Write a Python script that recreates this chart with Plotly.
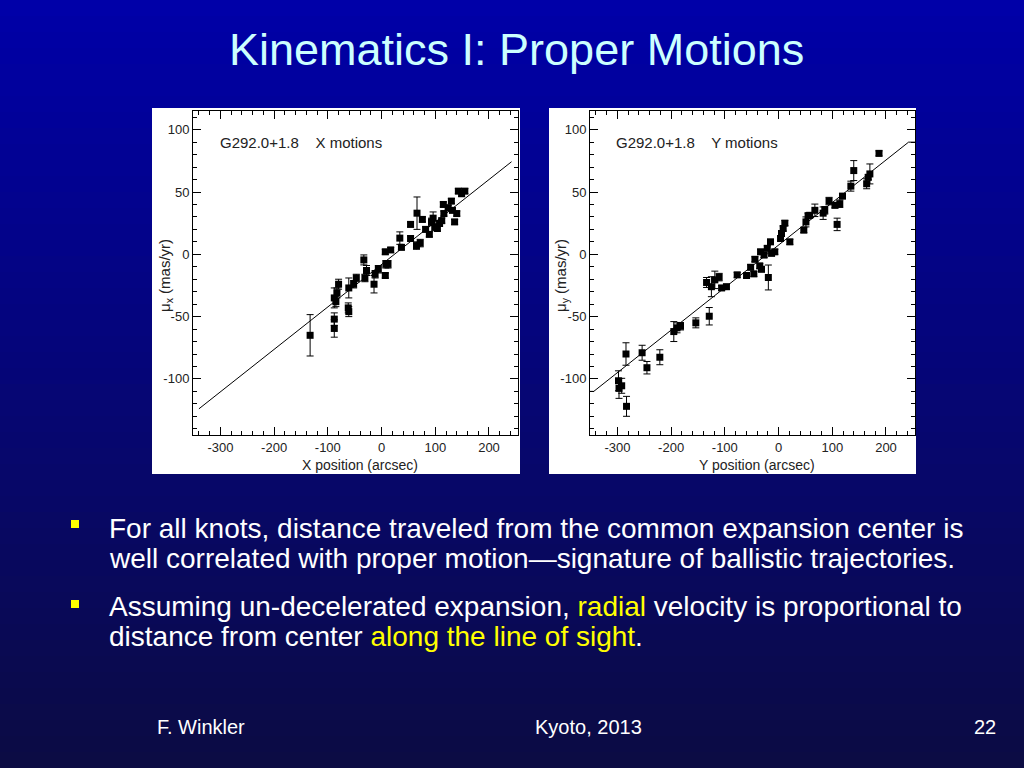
import plotly.graph_objects as go

# ---------------- data ----------------
x_pos = [-133, -88, -88, -88, -85, -83, -80, -61, -62, -61, -52, -47, -33, -31, -28, -14, -12, -6,
         7, 8, 12, 7, 17, 34, 37, 54, 54, 66, 65, 72, 76, 82, 89, 93, 96, 99, 104, 108, 112,
         115, 116, 124, 130, 132, 136, 140, 143, 149, 155]
x_mu = [-65, -59.5, -52, -35, -38, -31, -24, -27, -43, -46, -24, -19, -4.5, -19, -13, -24, -16, -12,
        -17, -8, -8, 2, 3.5, 13, 5.6, 24, 12.7, 33, 7, 9, 28, 20, 16, 26, 29, 22, 20.7, 24.7, 27,
        40, 32.7, 37.4, 42.7, 35.3, 26, 32.7, 50.7, 48.6, 50.7]
x_err = [16.6, 7, 5, 8, 4, 4, 4, 8, 4, 4, 3, 3, 4, 3, 4, 7, 3, 3,
         2, 3, 3, 2, 2, 5, 2, 2, 2, 13, 3, 3, 2, 2, 2, 3, 5, 3, 2, 2, 2,
         2, 2, 2, 2, 2, 2, 2, 2, 2, 2]

y_pos = [-298, -297, -292, -283, -284, -254, -245, -221, -195, -189, -182.5, -154, -129, -134, -125,
         -118.6, -110.6, -106, -97, -77, -59.6, -52, -46, -44, -35, -31.7, -33.5, -27, -19, -15, -21,
         -13, -7, 3.7, 5.5, 8.6, 11.7, 21, 47, 51, 55, 58, 67.6, 83, 86, 94, 105, 114, 119, 109,
         134.6, 140, 164, 167, 170, 187]
y_mu = [-101.5, -107.6, -105.5, -122, -80, -79, -91, -82.6, -62, -59, -57.7, -55, -49.7, -22.6, -26,
        -20.5, -18.3, -27, -26, -16.5, -17, -10.4, -15.7, -4, -9.3, -12, 2, -0.6, -18.6, 10, 4.8,
        0.8, 2, 12.7, 16.7, 20.7, 25, 10, 19.4, 26, 31, 31.3, 35.3, 33, 35.3, 42.7, 39.3, 40.6, 46.7, 24,
        54.7, 67.2, 56.6, 61.8, 64.5, 81]
y_err = [8, 8, 6, 8, 9, 6, 5, 6, 8, 4, 3, 4, 7, 4, 8,
         7, 3, 2, 2, 2, 2, 2, 2, 2, 2, 2, 2, 2, 10, 2, 2,
         2, 2, 2, 2, 2, 2, 2, 2, 4, 2, 2, 5, 5, 3, 3, 2, 3, 2, 5,
         4, 8, 4, 2, 8, 2]

x_fit_x = [-340, 242]
x_fit_y = [-124, 74.3]
y_fit_x = [-351, -344, 242, 254]
y_fit_y = [-110, -110, 90, 90]

x_ticks = [-300, -200, -100, 0, 100, 200]
y_ticks = [-100, -50, 0, 50, 100]

FONT = "Liberation Sans, Arial, sans-serif"
W, H = 1024, 768


def px(x):
    return x / W


def py(y):
    return 1 - y / H


fig = go.Figure()

for pos, mu, err, xa, ya in [(x_pos, x_mu, x_err, "x", "y"), (y_pos, y_mu, y_err, "x2", "y2")]:
    fig.add_trace(go.Scatter(
        x=pos, y=mu, mode="markers", xaxis=xa, yaxis=ya,
        marker=dict(symbol="square", size=7, color="black"),
        error_y=dict(type="data", array=err, visible=True, color="black", thickness=1, width=3.5),
        showlegend=False, hoverinfo="skip"))

fig.add_trace(go.Scatter(x=x_fit_x, y=x_fit_y, mode="lines", xaxis="x", yaxis="y",
                         line=dict(color="black", width=1), showlegend=False))
fig.add_trace(go.Scatter(x=y_fit_x, y=y_fit_y, mode="lines", xaxis="x2", yaxis="y2",
                         line=dict(color="black", width=1), showlegend=False))

ax_common = dict(showline=True, linecolor="black", linewidth=1, mirror="ticks",
                 ticks="inside", ticklen=8, tickcolor="black", tickwidth=1,
                 showgrid=False, zeroline=False,
                 tickfont=dict(family=FONT, size=13, color="#222"))
xax = dict(ax_common, range=[-351, 254], tickmode="array", tickvals=x_ticks,
           ticktext=[str(v) for v in x_ticks],
           minor=dict(dtick=20, ticks="inside", ticklen=4, tickcolor="black", showgrid=False))
yax = dict(ax_common, range=[-145, 115], tickmode="array", tickvals=y_ticks,
           ticktext=[str(v) for v in y_ticks],
           minor=dict(dtick=10, ticks="inside", ticklen=4, tickcolor="black", showgrid=False))

fig.update_layout(
    width=W, height=H,
    margin=dict(l=0, r=0, t=0, b=0),
    paper_bgcolor="#000080",
    plot_bgcolor="white",
    xaxis=dict(xax, domain=[px(193), px(518)], anchor="y"),
    yaxis=dict(yax, domain=[py(435), py(111)], anchor="x"),
    xaxis2=dict(xax, domain=[px(590), px(915)], anchor="y2"),
    yaxis2=dict(yax, domain=[py(435), py(111)], anchor="x2"),
)

# background gradient + white panels (styling)
shapes = []
N = 48
for i in range(N):
    t = i / (N - 1)
    r = int(0 + 12 * t)
    g = int(0 + 12 * t)
    b = int(168 - 100 * t)
    shapes.append(dict(type="rect", xref="paper", yref="paper", x0=0, x1=1,
                       y0=1 - (i + 1) / N - 0.002, y1=1 - i / N,
                       fillcolor=f"rgb({r},{g},{b})", line=dict(width=0), layer="below"))
for x0, x1 in [(152, 520), (549, 916)]:
    shapes.append(dict(type="rect", xref="paper", yref="paper", x0=px(x0), x1=px(x1),
                       y0=py(474), y1=py(108), fillcolor="white", line=dict(width=0), layer="below"))
for yb in [524, 604]:
    shapes.append(dict(type="rect", xref="paper", yref="paper", x0=px(71), x1=px(79),
                       y0=py(yb + 4), y1=py(yb - 4), fillcolor="#ffff00", line=dict(width=0)))
fig.update_layout(shapes=shapes)

ann = []
# title
ann.append(dict(text="Kinematics I: Proper Motions", x=px(516), y=py(50), xref="paper", yref="paper",
                showarrow=False, xanchor="center", yanchor="middle",
                font=dict(family=FONT, size=45, color="#ccffff")))
# panel labels
ann.append(dict(text="G292.0+1.8    X motions", x=px(218), y=py(142), xref="paper", yref="paper",
                showarrow=False, xanchor="left", yanchor="middle",
                font=dict(family=FONT, size=15, color="#222")))
ann.append(dict(text="G292.0+1.8    Y motions", x=px(614), y=py(142), xref="paper", yref="paper",
                showarrow=False, xanchor="left", yanchor="middle",
                font=dict(family=FONT, size=15, color="#222")))
# axis titles
ann.append(dict(text="X position (arcsec)", x=px(360), y=py(465), xref="paper", yref="paper",
                showarrow=False, xanchor="center", yanchor="middle",
                font=dict(family=FONT, size=14, color="#222")))
ann.append(dict(text="Y position (arcsec)", x=px(757), y=py(465), xref="paper", yref="paper",
                showarrow=False, xanchor="center", yanchor="middle",
                font=dict(family=FONT, size=14, color="#222")))
ann.append(dict(text="μ<sub>x</sub> (mas/yr)", x=px(165), y=py(276), xref="paper", yref="paper",
                showarrow=False, textangle=-90, xanchor="center", yanchor="middle",
                font=dict(family=FONT, size=15, color="#222")))
ann.append(dict(text="μ<sub>y</sub> (mas/yr)", x=px(561), y=py(276), xref="paper", yref="paper",
                showarrow=False, textangle=-90, xanchor="center", yanchor="middle",
                font=dict(family=FONT, size=15, color="#222")))

# bullet text
Y = "#ffff00"
lines = [
    ("For all knots, distance traveled from the common expansion center is", 528),
    ("well correlated with proper motion—signature of ballistic trajectories.", 558),
    ("Assuming un-decelerated expansion, <span style='color:%s'>radial</span> velocity is proportional to" % Y, 606),
    ("distance from center <span style='color:%s'>along the line of sight</span>." % Y, 636),
]
for txt, yy in lines:
    ann.append(dict(text=txt, x=px(107), y=py(yy), xref="paper", yref="paper",
                    showarrow=False, xanchor="left", yanchor="middle",
                    font=dict(family=FONT, size=28, color="white")))

# footer
ann.append(dict(text="F. Winkler", x=px(155), y=py(727), xref="paper", yref="paper",
                showarrow=False, xanchor="left", yanchor="middle",
                font=dict(family=FONT, size=20, color="white")))
ann.append(dict(text="Kyoto, 2013", x=px(588), y=py(727), xref="paper", yref="paper",
                showarrow=False, xanchor="center", yanchor="middle",
                font=dict(family=FONT, size=20, color="white")))
ann.append(dict(text="22", x=px(998), y=py(727), xref="paper", yref="paper",
                showarrow=False, xanchor="right", yanchor="middle",
                font=dict(family=FONT, size=20, color="white")))
fig.update_layout(annotations=ann)

fig.write_html("out.html", config={"displayModeBar": False},
               post_script="document.body.style.margin='0';document.body.style.background='#000050';")
